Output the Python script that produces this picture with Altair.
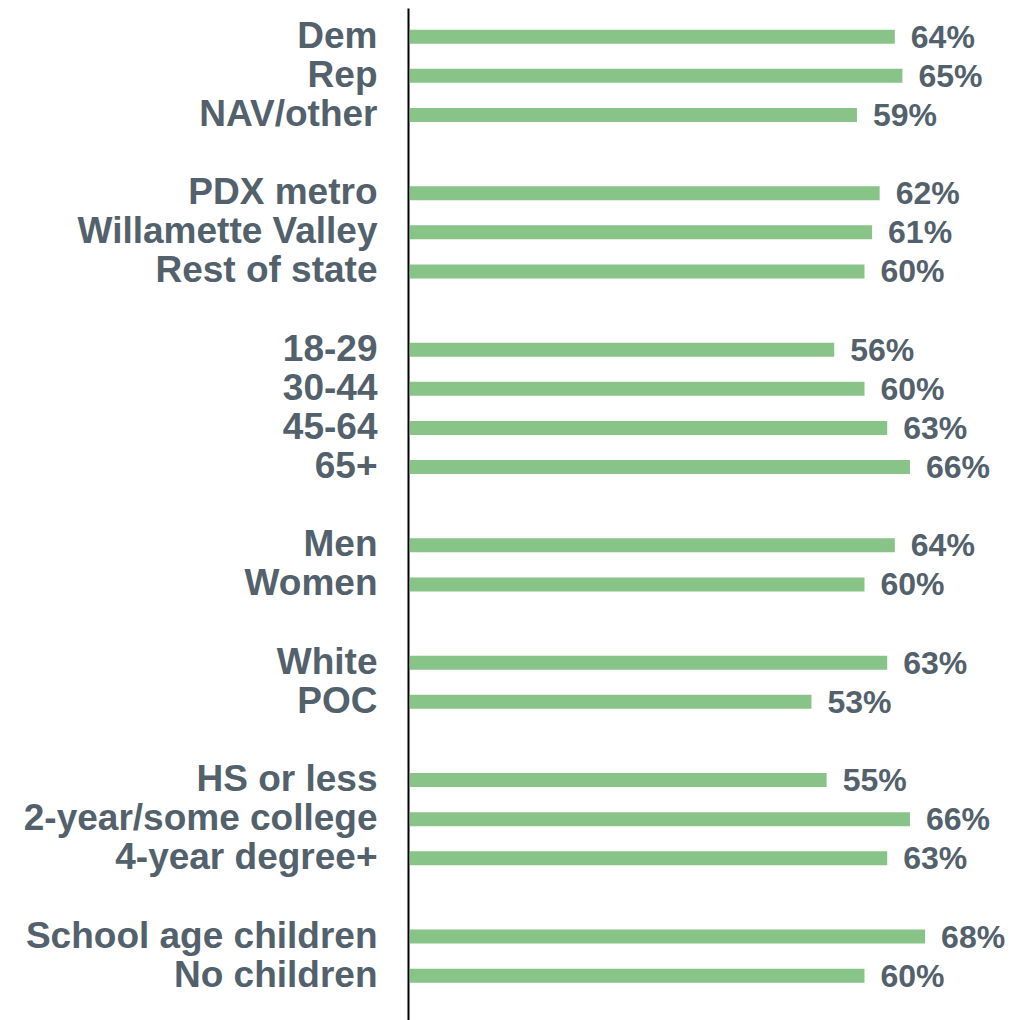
import altair as alt
import pandas as pd

categories = ["Dem", "Rep", "NAV/other", " ",
              "PDX metro", "Willamette Valley", "Rest of state", "  ",
              "18-29", "30-44", "45-64", "65+", "   ",
              "Men", "Women", "    ",
              "White", "POC", "     ",
              "HS or less", "2-year/some college", "4-year degree+", "      ",
              "School age children", "No children"]
bar_categories = ["Dem", "Rep", "NAV/other",
                  "PDX metro", "Willamette Valley", "Rest of state",
                  "18-29", "30-44", "45-64", "65+",
                  "Men", "Women",
                  "White", "POC",
                  "HS or less", "2-year/some college", "4-year degree+",
                  "School age children", "No children"]
values = [64, 65, 59, 62, 61, 60, 56, 60, 63, 66, 64, 60, 63, 53, 55, 66, 63, 68, 60]
value_labels = [f"{v}%" for v in values]

df = pd.DataFrame({"cat": bar_categories, "val": values, "lab": value_labels})

TEXT = "#52616B"
GREEN = "#88C487"
FONT = "Liberation Sans"

y = alt.Y("cat:N", sort=categories,
          scale=alt.Scale(domain=categories, paddingInner=0, paddingOuter=0.433, align=0.27),
          axis=alt.Axis(title=None, labelFont=FONT, labelFontSize=37, labelFontWeight="bold",
                        labelColor=TEXT, ticks=False, labelPadding=31, domainColor="#000000",
                        domainWidth=2, grid=False, labelLimit=0))
x = alt.X("val:Q", scale=alt.Scale(domain=[0, 80]), axis=None)

bars = alt.Chart(df).mark_bar(size=14, color=GREEN, xOffset=2).encode(x=x, y=y)
labels = alt.Chart(df).mark_text(align="left", baseline="middle", dx=18, dy=1, font=FONT,
                                 fontSize=32, fontWeight="bold", color=TEXT).encode(
    x=x, y=y, text="lab:N")

chart = (bars + labels).properties(
    width=606, height=1012,
    autosize=alt.AutoSizeParams(type="none"),
    padding={"left": 400, "top": 0, "right": 0, "bottom": 0},
).configure_view(stroke=None, strokeWidth=0)

chart.save("out.html", embed_options={"renderer": "svg", "actions": False})
